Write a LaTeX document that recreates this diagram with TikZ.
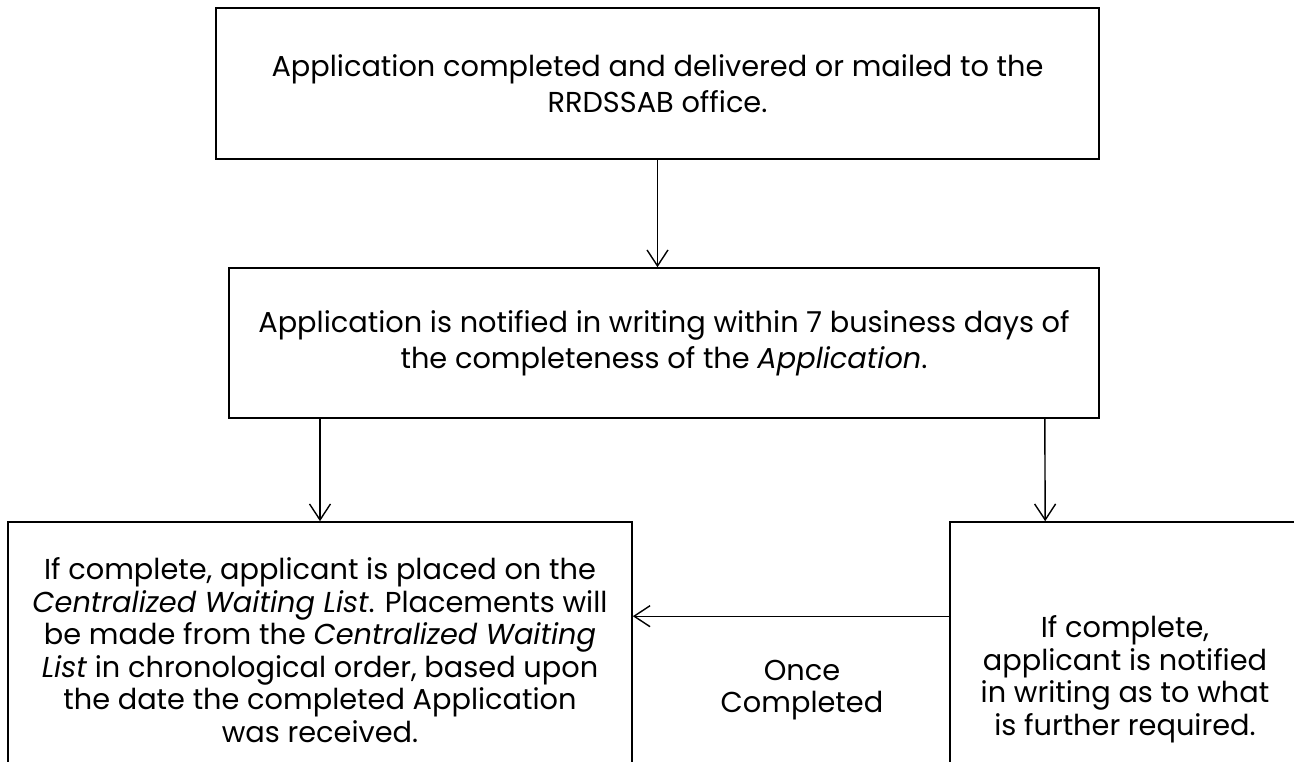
\documentclass[tikz,border=0pt]{standalone}
\usepackage{fontspec}
\setmainfont{Poppins}
\usetikzlibrary{arrows.meta}
\tikzset{
  box/.style={draw, line width=1.6pt, align=center, inner sep=0pt},
  bigtext/.style={font=\fontsize{28.8}{36}\selectfont},
  smalltext/.style={font=\fontsize{28.8}{32.5}\selectfont},
  link/.style={line width=1.4pt, -{Straight Barb[length=16pt,width=21pt,line width=1.4pt]}}
}
\begin{document}
\begin{tikzpicture}[x=1pt,y=-1pt]
\useasboundingbox (0,0) rectangle (1294,762);
\node[box, bigtext, minimum width=883pt, minimum height=151pt] (top) at (657.5,83.5)
  {Application completed and delivered or mailed to the\\RRDSSAB office.};
\node[box, bigtext, minimum width=870pt, minimum height=150pt] (mid) at (664,343)
  {Application is notified in writing within 7 business days of\\the completeness of the \textit{Application}.};
\node[box, smalltext, minimum width=624pt, minimum height=256pt] (left) at (320,650)
  {If complete, applicant is placed on the\\\textit{Centralized Waiting List}. Placements will\\be made from the \textit{Centralized Waiting}\\\textit{List} in chronological order, based upon\\the date the completed Application\\was received.};
\node[box, smalltext, minimum width=350pt, minimum height=314pt] (rightbox) at (1125,679)
  {If complete,\\applicant is notified\\in writing as to what\\is further required.};
\node[smalltext, align=center] (once) at (802,690) {Once\\Completed};
\draw[link] (top.south) -- (top.south |- mid.north);
\draw[link] (mid.south -| left.north) -- (left.north);
\draw[link] ([xshift=-55pt]mid.south east) -- ([xshift=96pt]rightbox.north west);
\draw[link] ([yshift=-95pt]rightbox.north west) -- ([yshift=-95pt]rightbox.north west -| left.east);
\end{tikzpicture}
\end{document}
